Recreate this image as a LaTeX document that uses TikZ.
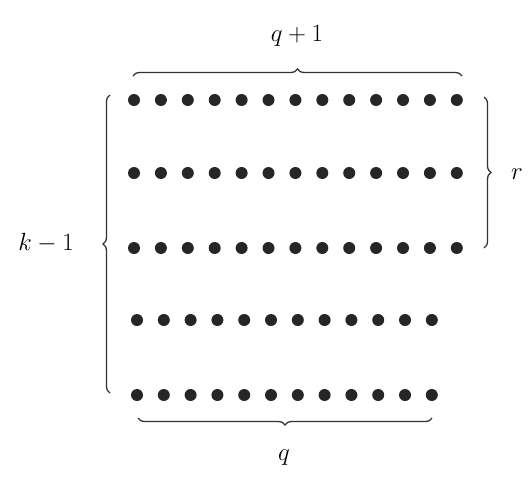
\documentclass[tikz,border=0pt]{standalone}
\usetikzlibrary{decorations.pathreplacing}
\begin{document}
\begin{tikzpicture}[x=1pt,y=-1pt,
  dot/.style={circle,fill=black!85,inner sep=0pt,minimum size=12pt},
  brc/.style={draw=black!80,line width=1.3pt,decorate,decoration={brace,amplitude=7pt}},
  lbl/.style={font=\fontsize{28}{30}\selectfont,inner sep=0pt}]
\useasboundingbox (0,0) rectangle (532,477);
% rows of 13 dots
\foreach \r/\y in {1/100,2/173,3/248}{
  \foreach \c in {0,...,12}{
    \node[dot] (d\r-\c) at ({134+\c*26.9},\y) {};
  }
}
% rows of 12 dots
\foreach \r/\y in {4/320,5/395}{
  \foreach \c in {0,...,11}{
    \node[dot] (d\r-\c) at ({137+\c*26.8},\y) {};
  }
}
% brace end points
\coordinate (t1) at (133,76);
\coordinate (t2) at (462,76);
\coordinate (r1) at (484,97);
\coordinate (r2) at (484,248);
\coordinate (l1) at (110,393);
\coordinate (l2) at (110,95);
\coordinate (b1) at (432,418);
\coordinate (b2) at (138,418);
\draw[brc] (t1) -- (t2);
\draw[brc] (r1) -- (r2);
\draw[brc] (l1) -- (l2);
\draw[brc] (b1) -- (b2);
\node[lbl] (qp1) at (297,36) {$q+1$};
\node[lbl,anchor=west,font=\fontsize{34}{36}\selectfont] (rl) at (511,174) {$r$};
\node[lbl] (km1) at (46,243) {$k-1$};
\node[lbl] (ql) at (284,458) {$q$};
\end{tikzpicture}
\end{document}
